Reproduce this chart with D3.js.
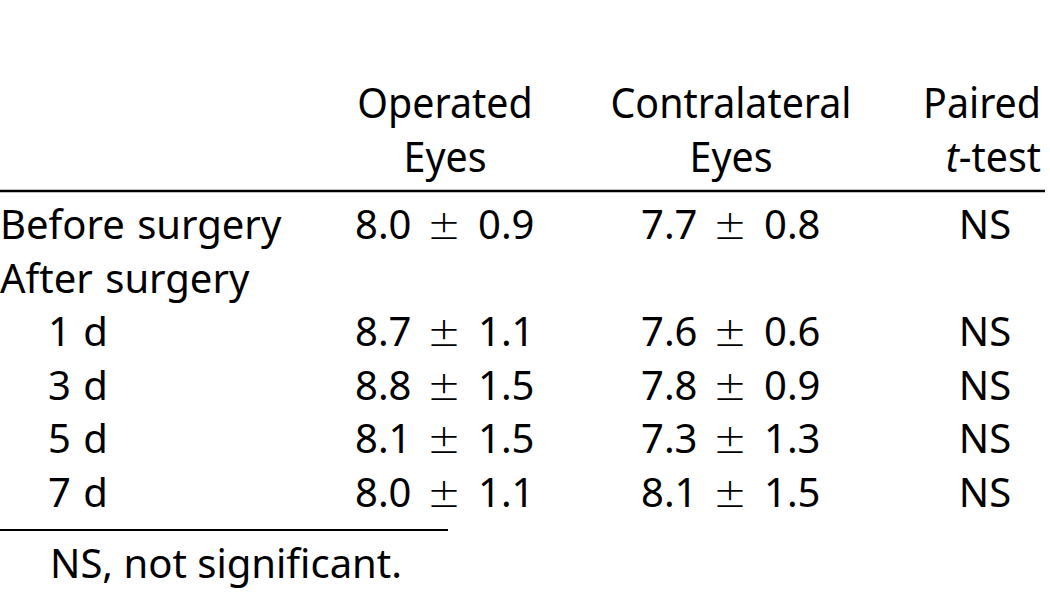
<!DOCTYPE html>
<html>
  <head>
    <meta charset="utf-8">
    <title></title>
    <script src="https://d3js.org/d3.v7.min.js"></script>
  </head>
  <style>
    body { margin: 0; background: #fff; }
    text { font-family: "Noto Sans", sans-serif; fill: #000; }
  </style>
  <body>
  <svg width="1050" height="608"></svg>
  <script>

  var headers = [["Operated", "Eyes"], ["Contralateral", "Eyes"], ["Paired", "t-test"]];
  var rowLabels = ["Before surgery", "After surgery", "1 d", "3 d", "5 d", "7 d"];
  var indent = [false, false, true, true, true, true];
  var opMean = ["8.0", null, "8.7", "8.8", "8.1", "8.0"];
  var opSD = ["0.9", null, "1.1", "1.5", "1.5", "1.1"];
  var coMean = ["7.7", null, "7.6", "7.8", "7.3", "8.1"];
  var coSD = ["0.8", null, "0.6", "0.9", "1.3", "1.5"];
  var pTest = ["NS", null, "NS", "NS", "NS", "NS"];
  var footnote = "NS, not significant.";

  var svg = d3.select("svg");
  var fs = 40;

  // row baselines
  var y = d3.scalePoint()
            .domain(d3.range(rowLabels.length))
            .range([239, 507]);

  // header
  var hx = [445, 731, 1041];
  var hAnchor = ["middle", "middle", "end"];
  headers.forEach(function(h, i) {
    h.forEach(function(line, j) {
      var t = svg.append("text")
        .attr("transform", "translate(" + hx[i] + "," + (118 + j * 54) + ") scale(0.96,1.02)")
        .attr("text-anchor", hAnchor[i])
        .style("font-size", "41px");
      if (line == "t-test") {
        t.append("tspan").style("font-style", "italic").text("t");
        t.append("tspan").text("-test");
      } else {
        t.text(line);
      }
    });
  });

  svg.append("line")
    .attr("x1", 0).attr("x2", 1045)
    .attr("y1", 191).attr("y2", 191)
    .attr("stroke", "#000").attr("stroke-width", 2.5);

  var rows = svg.selectAll("g.row")
    .data(rowLabels)
    .enter()
    .append("g")
    .attr("class", "row")
    .attr("transform", function(d, i) { return "translate(0," + y(i) + ")"; });

  rows.append("text")
    .attr("x", function(d, i) { return indent[i] ? 48 : 0; })
    .style("font-size", fs + "px")
    .style("word-spacing", "2px")
    .text(function(d) { return d; });

  // mean +- sd, each piece placed on its own
  var cols = [{mean: opMean, sd: opSD, x: 355}, {mean: coMean, sd: coSD, x: 641}];
  rows.each(function(d, i) {
    if (opMean[i] == null) return;
    var g = d3.select(this);
    cols.forEach(function(c) {
      g.append("text").attr("x", c.x).style("font-size", fs + "px").text(c.mean[i]);
      g.append("text").attr("x", c.x + 89).attr("text-anchor", "middle")
        .style("font-family", "'DejaVu Sans'").style("font-size", "40px")
        .style("font-weight", 200).text("\u00b1");
      g.append("text").attr("x", c.x + 123).style("font-size", fs + "px").text(c.sd[i]);
    });
    g.append("text").attr("x", 985).attr("text-anchor", "middle").style("font-size", fs + "px")
      .text(pTest[i]);
  });

  svg.append("line")
    .attr("x1", 0).attr("x2", 448)
    .attr("y1", 530).attr("y2", 530)
    .attr("stroke", "#000").attr("stroke-width", 2);

  svg.append("text")
    .attr("x", 50).attr("y", 578)
    .style("font-size", fs + "px")
    .text(footnote);

  </script>
  </body>
</html>
